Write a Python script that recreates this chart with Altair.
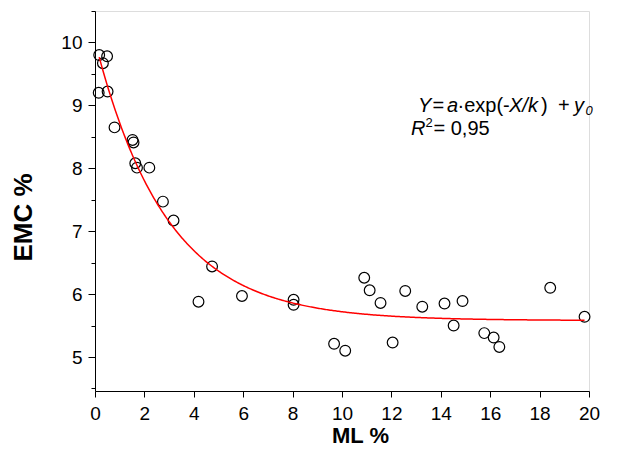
import altair as alt
import pandas as pd

# --- data ---
ml = [0.17, 0.49, 0.32, 0.15, 0.51, 0.79, 1.52, 1.56, 1.63, 1.70, 2.20, 2.75,
      3.18, 4.74, 4.19, 5.95, 8.04, 8.04, 9.68, 10.13, 10.90, 11.12, 11.56,
      12.05, 12.56, 13.25, 14.15, 14.52, 14.88, 15.76, 16.14, 16.37, 18.43, 19.82]
emc = [9.80, 9.78, 9.67, 9.20, 9.22, 8.65, 8.45, 8.41, 8.08, 8.01, 8.01, 7.47,
       7.17, 6.44, 5.88, 5.97, 5.91, 5.83, 5.21, 5.10, 6.26, 6.06, 5.86,
       5.23, 6.05, 5.80, 5.85, 5.50, 5.89, 5.38, 5.31, 5.16, 6.10, 5.64]

# fitted model Y = a*exp(-X/k) + y0
fit_a = 4.44
fit_k = 2.89
fit_y0 = 5.58
fit_start = 0.17
fit_end = 19.85

x_ticks = list(range(0, 21))
y_major = [5, 6, 7, 8, 9, 10]
y_minor = [4.5, 5.5, 6.5, 7.5, 8.5, 9.5, 10.5]

FONT = "Liberation Sans"

df = pd.DataFrame({"ML": ml, "EMC": emc})

xscale = alt.Scale(domain=[0, 20], nice=False, zero=False)
yscale = alt.Scale(domain=[4.46, 10.5], nice=False, zero=False)

xaxis = alt.Axis(
    values=x_ticks, title="ML %", grid=False, orient="bottom",
    labelExpr="datum.value % 2 ? '' : datum.label",
    tickSize={"condition": {"test": "datum.value % 2 != 0", "value": 4}, "value": 6},
    labelFlush=False, labelOverlap=False, labelPadding=7,
    labelFont=FONT, labelFontSize=19, labelColor="black",
    titleFont=FONT, titleFontSize=22, titleFontWeight="bold", titleColor="black",
    titleX=265, titleY=51, titleBaseline="alphabetic", titleAlign="center",
    domainColor="black", tickColor="black", domainWidth=1, tickWidth=1,
)
yaxis_major = alt.Axis(
    values=y_major, title="EMC %", grid=False, orient="left", tickSize=7,
    labelFlush=False, labelOverlap=False, labelPadding=6,
    labelFont=FONT, labelFontSize=19, labelColor="black",
    titleFont=FONT, titleFontSize=26, titleFontWeight="bold", titleColor="black",
    titleX=-72, titleY=206, titleBaseline="middle", titleAlign="center", titleAngle=270,
    domainColor="black", tickColor="black", domainWidth=1, tickWidth=1,
)
yaxis_minor = alt.Axis(
    values=y_minor, title=None, grid=False, orient="left", tickSize=4,
    labels=False, domain=False, tickColor="black", tickWidth=1,
)

points = alt.Chart(df).mark_point(
    shape="circle", size=115, filled=False, color="black", strokeWidth=1.2, opacity=1
).encode(
    x=alt.X("ML:Q", scale=xscale, axis=xaxis),
    y=alt.Y("EMC:Q", scale=yscale, axis=yaxis_major),
)

curve = alt.Chart(alt.sequence(fit_start, fit_end, 0.05, as_="ML")).transform_calculate(
    EMC=f"{fit_y0} + {fit_a} * exp(-datum.ML / {fit_k})"
).mark_line(color="#FF0000", strokeWidth=1.5).encode(
    x=alt.X("ML:Q", scale=xscale),
    y=alt.Y("EMC:Q", scale=yscale, axis=yaxis_minor),
)

def txt(s, x, y, size=20, italic=False):
    return alt.Chart(alt.Data(values=[{}])).mark_text(
        text=s, font=FONT, fontSize=size, fontStyle="italic" if italic else "normal",
        align="left", baseline="alphabetic", color="black"
    ).encode(x=alt.value(x), y=alt.value(y))

ann = [
    txt("Y", 323, 100.7, italic=True),
    txt("=", 337.5, 100.7),
    txt("a", 352, 100.7, italic=True),
    txt("·exp(-", 362.5, 100.7),
    txt("X/k", 414, 100.7, italic=True),
    txt(")", 446, 100.7),
    txt("+", 463, 100.7),
    txt("y", 479, 100.7, italic=True),
    txt("0", 490.5, 104, size=13, italic=True),
    txt("R", 316, 124, italic=True),
    txt("2", 330.5, 116, size=13),
    txt("= 0,95", 338.5, 124),
]

chart = alt.layer(points, curve, *ann).resolve_axis(y="independent").properties(
    width=494, height=380,
    autosize=alt.AutoSizeParams(type="none"),
    padding={"left": 87, "top": 3, "right": 16, "bottom": 56},
).configure_view(stroke=None).configure(background="white")

chart.save("out.html", embed_options={"renderer": "svg", "actions": False})
